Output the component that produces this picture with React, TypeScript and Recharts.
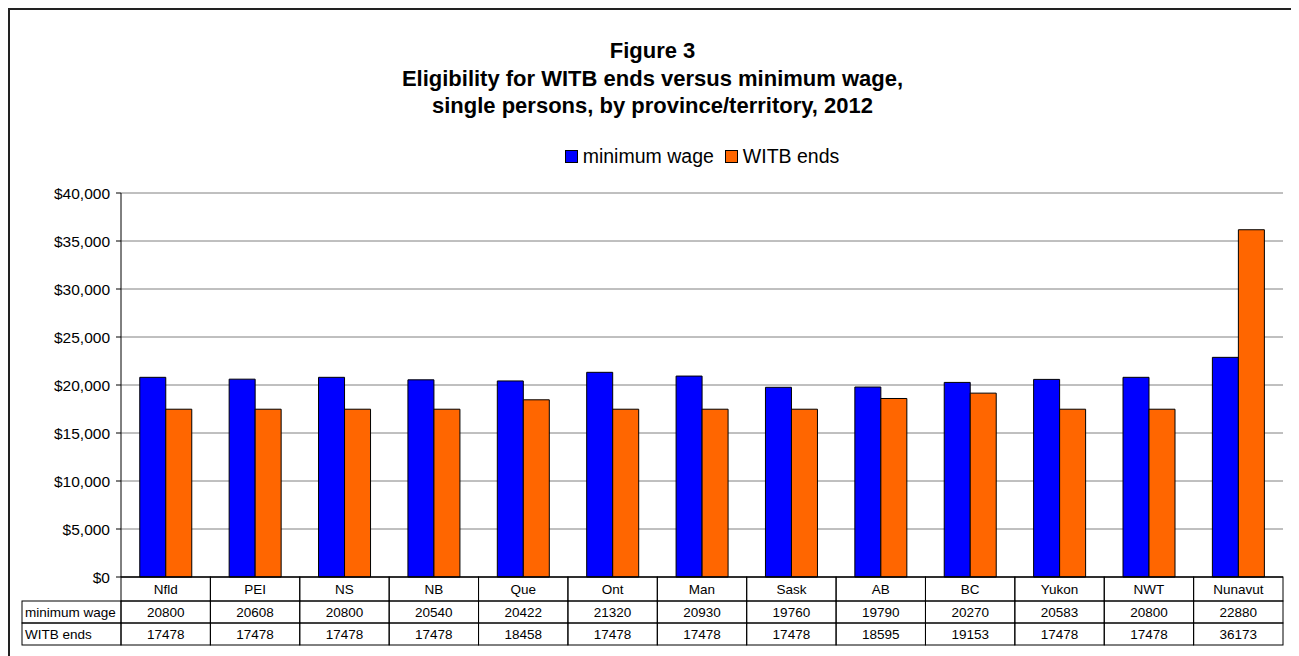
import React from "react";
import { Bar, BarChart, CartesianGrid, Legend, XAxis, YAxis } from "recharts";

const provinces = ["Nfld", "PEI", "NS", "NB", "Que", "Ont", "Man", "Sask", "AB", "BC", "Yukon", "NWT", "Nunavut"];
const minimumWage = [20800, 20608, 20800, 20540, 20422, 21320, 20930, 19760, 19790, 20270, 20583, 20800, 22880];
const witbEnds = [17478, 17478, 17478, 17478, 18458, 17478, 17478, 17478, 18595, 19153, 17478, 17478, 36173];
const yTicks = [0, 5000, 10000, 15000, 20000, 25000, 30000, 35000, 40000];

const BLUE = "#0000ff";
const ORANGE = "#ff6600";
const FONT = "'Liberation Sans', Arial, sans-serif";

const data = provinces.map((p, i) => ({ name: p, minWage: minimumWage[i], witb: witbEnds[i] }));

const CHART_W = 1285;
const CHART_H = 660;
const MARGIN = { top: 183, right: 12, bottom: 23, left: 31 };
const Y_AXIS_W = 80;
const PLOT_W = CHART_W - MARGIN.left - MARGIN.right - Y_AXIS_W;
const BAND = PLOT_W / provinces.length;
const HEADER_W = 99;
const TABLE_FONT = 13.5;

// x axis tick draws the whole data-table column under each category
function TableTick(props: any) {
  const { x, y, payload, index } = props;
  const i = payload?.index ?? index;
  const left = x - BAND / 2;
  const rows = [
    { top: 0, h: 24, text: payload.value },
    { top: 24, h: 22, text: String(minimumWage[i]) },
    { top: 46, h: 22, text: String(witbEnds[i]) },
  ];
  return (
    <g>
      {rows.map((r, k) => (
        <g key={k}>
          <rect x={left} y={y + r.top} width={BAND} height={r.h} fill="none" stroke="#000" strokeWidth={1} />
          <text x={x} y={y + r.top + r.h / 2 + 5} textAnchor="middle" fontSize={TABLE_FONT} fill="#000" fontFamily={FONT}>
            {r.text}
          </text>
        </g>
      ))}
      {i === 0 && (
        <g>
          {[
            { top: 24, text: "minimum wage" },
            { top: 46, text: "WITB ends" },
          ].map((r, k) => (
            <g key={k}>
              <rect x={left - HEADER_W} y={y + r.top} width={HEADER_W} height={22} fill="none" stroke="#000" strokeWidth={1} />
              <text x={left - HEADER_W + 3} y={y + r.top + 16} fontSize={TABLE_FONT} fill="#000" fontFamily={FONT}>
                {r.text}
              </text>
            </g>
          ))}
        </g>
      )}
    </g>
  );
}

function LegendContent() {
  const items = [
    { label: "minimum wage", color: BLUE },
    { label: "WITB ends", color: ORANGE },
  ];
  return (
    <div style={{ display: "flex", justifyContent: "center", alignItems: "center", fontFamily: FONT, fontSize: 19.5, color: "#000" }}>
      {items.map((it, k) => (
        <div key={it.label} style={{ display: "flex", alignItems: "center", marginRight: k === 0 ? 11 : 0 }}>
          <span style={{ width: 11, height: 11, background: it.color, border: "1px solid #000", marginRight: 5, display: "inline-block" }} />
          <span>{it.label}</span>
        </div>
      ))}
    </div>
  );
}

export default function App() {
  return (
    <div
      style={{
        position: "relative",
        width: CHART_W,
        height: CHART_H,
        border: "2px solid #222",
        background: "#fff",
        fontFamily: FONT,
      }}
    >
      <div
        style={{
          position: "absolute",
          top: 27,
          left: 0,
          width: "100%",
          textAlign: "center",
          fontWeight: "bold",
          fontSize: 22,
          lineHeight: "27.5px",
          color: "#000",
        }}
      >
        <div>Figure 3</div>
        <div>Eligibility for WITB ends versus minimum wage,</div>
        <div>single persons, by province/territory, 2012</div>
      </div>
      <BarChart width={CHART_W} height={CHART_H} data={data} margin={MARGIN} barCategoryGap="21%" barGap={0}>
        <CartesianGrid vertical={false} stroke="#808080" />
        <XAxis
          dataKey="name"
          interval={0}
          height={70}
          tickSize={0}
          tickMargin={0}
          tickLine={false}
          axisLine={{ stroke: "#000" }}
          tick={<TableTick />}
        />
        <YAxis
          width={Y_AXIS_W}
          domain={[0, 40000]}
          ticks={yTicks}
          interval={0}
          tickSize={5}
          tickMargin={6}
          axisLine={{ stroke: "#000" }}
          tickLine={{ stroke: "#000" }}
          tick={{ fontSize: 15.5, fill: "#000", fontFamily: FONT }}
          tickFormatter={(v: number) => `$${v.toLocaleString("en-US")}`}
        />
        <YAxis
          yAxisId="right"
          orientation="right"
          width={0}
          domain={[0, 40000]}
          tick={false}
          tickLine={false}
          axisLine={{ stroke: "#a6a6a6" }}
        />
        <Legend
          layout="horizontal"
          verticalAlign="middle"
          align="center"
          wrapperStyle={{ top: 135, left: MARGIN.left + Y_AXIS_W, width: PLOT_W }}
          content={<LegendContent />}
        />
        <Bar dataKey="minWage" name="minimum wage" fill={BLUE} stroke="#000" strokeWidth={1} isAnimationActive={false} />
        <Bar dataKey="witb" name="WITB ends" fill={ORANGE} stroke="#000" strokeWidth={1} isAnimationActive={false} />
      </BarChart>
    </div>
  );
}
